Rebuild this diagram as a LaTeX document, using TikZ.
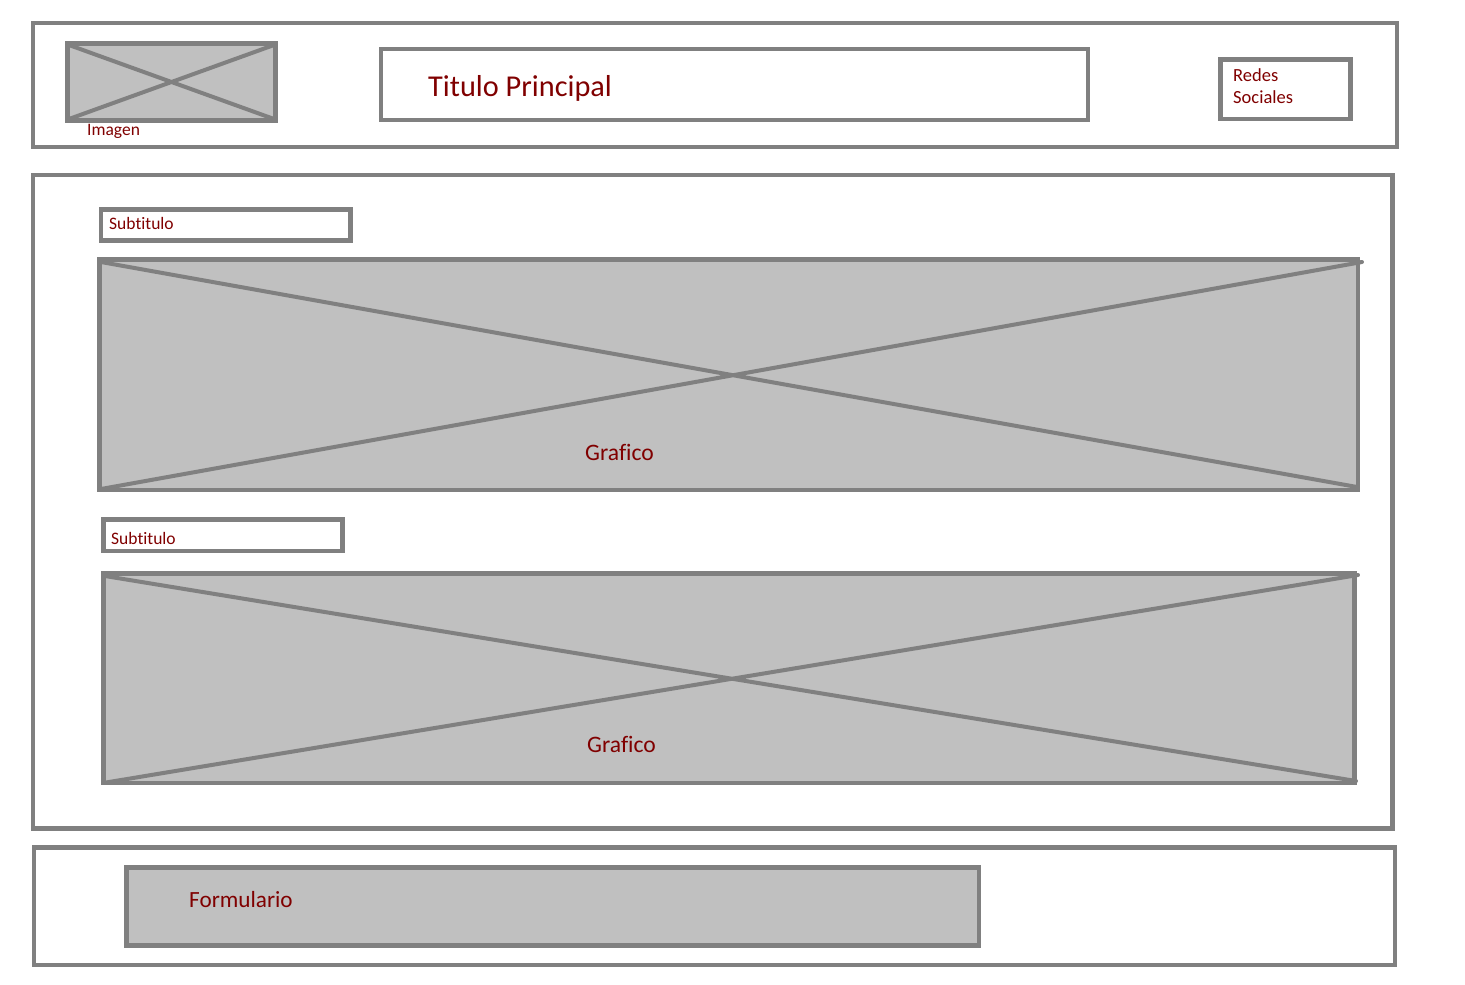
\documentclass[tikz,border=0pt]{standalone}
\usepackage{fontspec}
\setmainfont{Carlito}[RawFeature=-liga]
\definecolor{linegray}{HTML}{808080}
\definecolor{fillgray}{HTML}{C0C0C0}
\definecolor{txtred}{HTML}{800000}
\begin{document}
\begin{tikzpicture}[x=1pt,y=-1pt,
  frame/.style={draw=linegray,line width=4.5pt},
  ph/.style={draw=linegray,fill=fillgray,line width=4.5pt},
  cross/.style={draw=linegray,line width=4pt,line cap=round},
  lbl/.style={text=txtred,anchor=base west,inner sep=0pt,font=#1},
  lbl/.default=\fontsize{17.5}{21}\selectfont]
\useasboundingbox[fill=white] (0,0) rectangle (1465,985);
% header
\draw[frame] (33,23) rectangle (1397,147);
\draw[ph] (67.5,43.5) rectangle (275.5,120.5);
\draw[cross] (69,45) -- (274,119) (69,119) -- (274,45);
\node[lbl] (imagen) at (87,135) {Imagen};
\draw[frame] (381,49) rectangle (1088,120);
\node[lbl=\fontsize{30.3}{36}\selectfont] (titulo) at (428,96) {Titulo Principal};
\draw[frame] (1220.5,59.5) rectangle (1350.5,119);
\node[lbl=\fontsize{18.5}{21}\selectfont] (redes) at (1233,81) {Redes};
\node[lbl=\fontsize{18.5}{21}\selectfont] (sociales) at (1233,103) {Sociales};
% main panel
\draw[frame] (33,175) rectangle (1392.5,828.5);
\draw[frame] (101,209.5) rectangle (350.5,240.5);
\node[lbl] (sub1) at (109,229) {Subtitulo};
\draw[ph] (99.5,259.5) rectangle (1358,490);
\draw[cross] (101,262) -- (1357,487) (101,489) -- (1362,262);
\node[lbl=\fontsize{23.6}{28}\selectfont] (graf1) at (585,460) {Grafico};
\draw[frame] (103.5,519.5) rectangle (342.5,551);
\node[lbl] (sub2) at (111,544) {Subtitulo};
\draw[ph] (103.5,573.5) rectangle (1354.5,783);
\draw[cross] (105,576) -- (1356,781) (103,783) -- (1358,575);
\node[lbl=\fontsize{23.6}{28}\selectfont] (graf2) at (587,752) {Grafico};
% footer
\draw[frame] (34,847.5) rectangle (1395,965);
\draw[ph] (126.5,867.5) rectangle (979,945.5);
\node[lbl=\fontsize{23.2}{28}\selectfont] (form) at (189,907) {Formulario};
\end{tikzpicture}
\end{document}
